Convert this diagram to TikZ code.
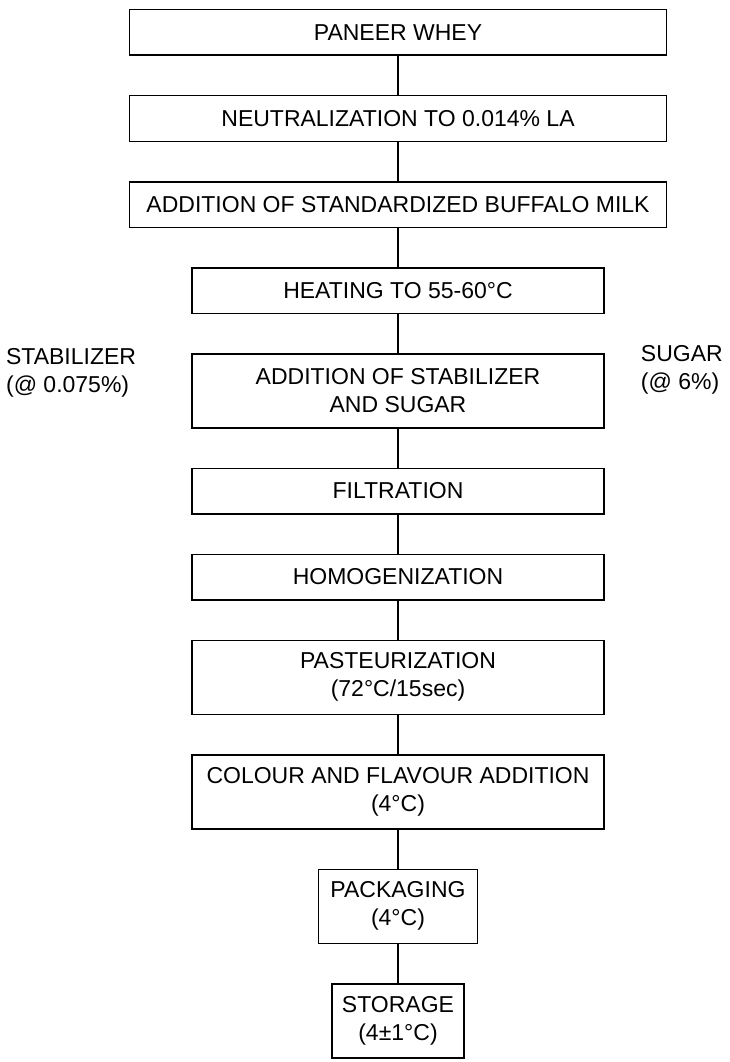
\documentclass[tikz,border=0pt]{standalone}
\usepackage{fontspec}
\setmainfont{Liberation Sans}
\usetikzlibrary{positioning}

\tikzstyle{every node}=[font={\fontsize{23}{28}\selectfont}, inner sep=0pt]
\tikzstyle{stepbox}=[draw=black, line width=1.5pt, minimum height=45.5pt, align=center]
\tikzstyle{widebox}=[stepbox, minimum width=537pt]
\tikzstyle{midbox}=[stepbox, minimum width=412pt]
\tikzstyle{tallbox}=[minimum height=74pt]
\tikzstyle{sidenote}=[align=left]
\tikzstyle{link}=[line width=1.1pt]

\begin{document}
\begin{tikzpicture}[node distance=39pt]
    \useasboundingbox (0,0) rectangle (730pt,-1062pt);

    \node [widebox] (whey) at (398pt,-32.5pt) {PANEER WHEY};
    \node [widebox, below=of whey] (neut) {NEUTRALIZATION TO 0.014\% LA};
    \node [widebox, below=of neut] (milk) {ADDITION OF STANDARDIZED BUFFALO MILK};
    \node [midbox, below=of milk] (heat) {HEATING TO 55-60°C};
    \node [midbox, tallbox, below=of heat] (addst) {ADDITION OF STABILIZER\\AND SUGAR};
    \node [midbox, below=of addst] (filt) {FILTRATION};
    \node [midbox, below=of filt] (homo) {HOMOGENIZATION};
    \node [midbox, tallbox, below=of homo] (past) {PASTEURIZATION\\(72°C/15sec)};
    \node [midbox, tallbox, below=of past] (colour) {COLOUR AND FLAVOUR ADDITION\\(4°C)};
    \node [stepbox, tallbox, minimum width=159pt, below=of colour] (pack) {PACKAGING\\(4°C)};
    \node [stepbox, tallbox, minimum width=132pt, below=of pack] (store) {STORAGE\\(4±1°C)};

    % ingredients added at the stabilizer step
    \node [sidenote, left=55pt of addst, yshift=18pt] (stab) {STABILIZER\\(@ 0.075\%)};
    \node [sidenote, right=36pt of addst, yshift=21pt] (sugar) {SUGAR\\(@ 6\%)};

    \foreach \a/\b in {whey/neut, neut/milk, milk/heat, heat/addst, addst/filt,
                       filt/homo, homo/past, past/colour, colour/pack, pack/store}
        \draw [link] (\a) -- (\b);
\end{tikzpicture}
\end{document}
